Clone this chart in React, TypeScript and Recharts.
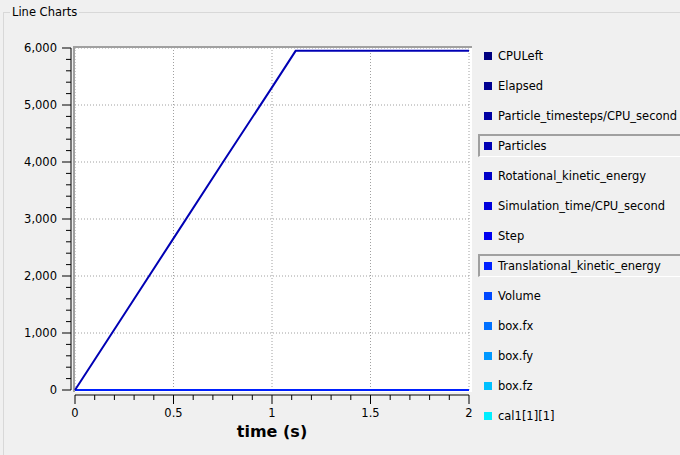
import React from "react"
import { Label, Line, LineChart, ReferenceLine, XAxis, YAxis } from "recharts"

// values
const time = [0, 0.25, 0.5, 0.75, 1, 1.12, 1.5, 2]
const particles = [0, 1330, 2660, 3990, 5310, 5950, 5950, 5950]
const translational = [0, 0, 0, 0, 0, 0, 0, 0]

const xMajor = [0, 0.5, 1, 1.5, 2]
const yMajor = [0, 1000, 2000, 3000, 4000, 5000, 6000]

const legendNames = [
  "CPULeft",
  "Elapsed",
  "Particle_timesteps/CPU_second",
  "Particles",
  "Rotational_kinetic_energy",
  "Simulation_time/CPU_second",
  "Step",
  "Translational_kinetic_energy",
  "Volume",
  "box.fx",
  "box.fy",
  "box.fz",
  "cal1[1][1]",
]
const legendColors = [
  "#00007f",
  "#000090",
  "#0000a2",
  "#0000b4",
  "#0000c8",
  "#0000dc",
  "#0000f0",
  "#0020ff",
  "#0048ff",
  "#0070ff",
  "#0098ff",
  "#00c0ff",
  "#00eeff",
]
const selected = ["Particles", "Translational_kinetic_energy"]

const data = time.map((t, i) => ({ t, particles: particles[i], translational: translational[i] }))

// minor tick positions for the axes
const xTicks = Array.from({ length: 21 }, (_, i) => Math.round(i * 10) / 100)
const yTicks = Array.from({ length: 31 }, (_, i) => i * 200)

const W = 680
const H = 455
const PLOT_L = 75
const PLOT_T = 48
const PLOT_R = 469
const PLOT_B = 390
const FONT = "'DejaVu Sans', sans-serif"
const FS = 11.5

const colorOf = (name: string) => legendColors[legendNames.indexOf(name)]

function YTick(props: any) {
  const { x, y, payload } = props
  const v = payload.value
  const major = yMajor.includes(v)
  return (
    <g>
      {v === 0 && <line x1={x - 4} x2={x - 4} y1={y} y2={y - (PLOT_B - PLOT_T)} stroke="#000" />}
      <line x1={x - (major ? 13 : 9)} x2={x - 4} y1={y} y2={y} stroke="#000" />
      {major && (
        <text x={x - 18} y={y} textAnchor="end" dominantBaseline="central" fontSize={FS} fontFamily={FONT} fill="#000">
          {v.toLocaleString("en-US")}
        </text>
      )}
    </g>
  )
}

function XTick(props: any) {
  const { x, y, payload } = props
  const v = payload.value
  const major = xMajor.includes(v)
  return (
    <g>
      {v === 0 && <line x1={x} x2={x + (PLOT_R - PLOT_L)} y1={y + 5} y2={y + 5} stroke="#000" />}
      <line x1={x} x2={x} y1={y + 5} y2={y + (major ? 14 : 10)} stroke="#000" />
      {major && (
        <text x={x} y={y + 23} textAnchor="middle" dominantBaseline="central" fontSize={FS} fontFamily={FONT} fill="#000">
          {String(v)}
        </text>
      )}
    </g>
  )
}

export default function App() {
  return (
    <div
      style={{
        position: "absolute",
        left: 0,
        top: 0,
        width: W,
        height: H,
        background: "#f0f0f0",
        overflow: "hidden",
        fontFamily: FONT,
      }}
    >
      <style>{`body{margin:0}`}</style>
      {/* group box */}
      <div
        style={{
          position: "absolute",
          left: 3,
          top: 12,
          width: 800,
          height: 600,
          borderLeft: "1px solid #d8d8d8",
          borderTop: "1px solid #d8d8d8",
        }}
      />
      <div
        style={{
          position: "absolute",
          left: 10,
          top: 4,
          padding: "0 2px",
          background: "#f0f0f0",
          fontSize: FS,
          lineHeight: "16px",
          color: "#000",
        }}
      >
        Line Charts
      </div>
      {/* plot frame */}
      <div
        style={{
          position: "absolute",
          left: PLOT_L - 2,
          top: PLOT_T - 2,
          width: PLOT_R - PLOT_L + 3,
          height: PLOT_B - PLOT_T + 2,
          background: "#fff",
          borderTop: "2px solid #a0a0a0",
          borderLeft: "2px solid #a0a0a0",
        }}
      />
      <div style={{ position: "absolute", left: 0, top: 0 }}>
        <LineChart
          width={W}
          height={H}
          data={data}
          margin={{ top: PLOT_T, right: W - PLOT_R, left: 0, bottom: 0 }}
        >
          <XAxis
            dataKey="t"
            type="number"
            domain={[0, 2]}
            ticks={xTicks}
            interval={0}
            height={H - PLOT_B}
            tickSize={0}
            tickMargin={0}
            axisLine={false}
            tickLine={false}
            tick={<XTick />}
          >
            <Label
              value="time (s)"
              position="insideBottom"
              offset={18}
              style={{ fontSize: 16, fontWeight: "bold", fill: "#000", fontFamily: FONT }}
            />
          </XAxis>
          <YAxis
            type="number"
            domain={[0, 6000]}
            ticks={yTicks}
            interval={0}
            width={PLOT_L}
            tickSize={0}
            tickMargin={0}
            axisLine={false}
            tickLine={false}
            tick={<YTick />}
          />
          {xMajor.map((v) => (
            <ReferenceLine key={"x" + v} x={v} stroke="#a0a0a0" strokeDasharray="1 2" />
          ))}
          {yMajor.map((v) => (
            <ReferenceLine key={"y" + v} y={v} stroke="#a0a0a0" strokeDasharray="1 2" />
          ))}
          <Line
            dataKey="translational"
            type="linear"
            stroke={colorOf("Translational_kinetic_energy")}
            strokeWidth={2}
            dot={false}
            isAnimationActive={false}
          />
          <Line
            dataKey="particles"
            type="linear"
            stroke={colorOf("Particles")}
            strokeWidth={2}
            dot={false}
            isAnimationActive={false}
          />
        </LineChart>
      </div>
      {/* legend */}
      {legendNames.map((name, i) => {
        const on = selected.includes(name)
        return (
          <div
            key={name}
            style={{
              position: "absolute",
              left: 478,
              top: 55 + 30 * i - 11,
              width: 220,
              height: 23,
              boxSizing: "border-box",
              borderTop: on ? "2px solid #a0a0a0" : "2px solid transparent",
              borderLeft: on ? "2px solid #a0a0a0" : "2px solid transparent",
              borderBottom: on ? "1px solid #ffffff" : "1px solid transparent",
            }}
          >
            <div
              style={{
                position: "absolute",
                left: 4,
                top: 6,
                width: 8,
                height: 8,
                background: legendColors[i],
              }}
            />
            <div
              style={{
                position: "absolute",
                left: 18,
                top: 0,
                lineHeight: "20px",
                fontSize: FS,
                color: "#000",
                whiteSpace: "nowrap",
              }}
            >
              {name}
            </div>
          </div>
        )
      })}
    </div>
  )
}
